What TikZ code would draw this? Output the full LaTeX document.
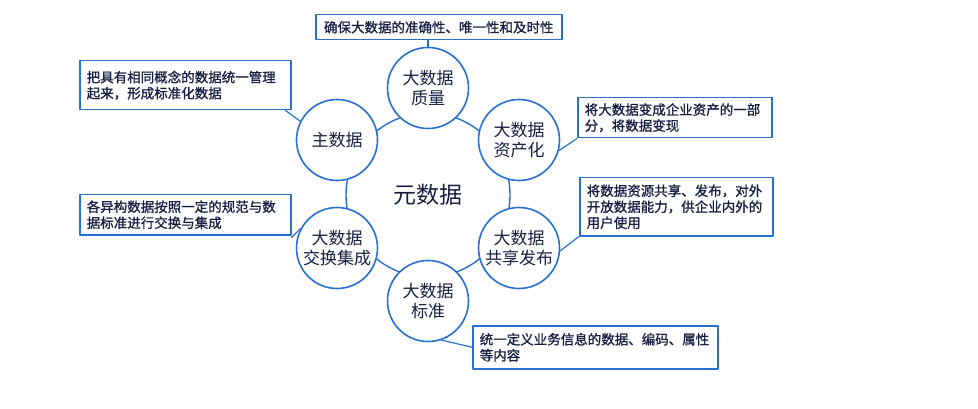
\documentclass[tikz,border=0pt]{standalone}
\usepackage{fontspec}
\setmainfont{Noto Sans CJK SC}
\newfontfamily\notefont[FakeBold=1]{Noto Sans CJK SC}
\definecolor{ringblue}{RGB}{40,112,208}
\definecolor{txtnavy}{RGB}{22,30,66}
\begin{document}
\begin{tikzpicture}[x=1pt, y=-1pt, line cap=round, line join=round]
	\tikzset{topic/.style={circle, draw=ringblue, line width=1.6pt, fill=white, minimum size=81pt, inner sep=0pt, align=center, text=txtnavy, font=\fontsize{17}{19.5}\selectfont},
		note/.style={draw=ringblue, line width=1.5pt, fill=white, anchor=north west, align=left, text=txtnavy, font=\notefont\fontsize{13.5}{16}\selectfont, inner xsep=7pt, inner ysep=0pt},
		link/.style={draw=ringblue, line width=1.2pt}}
	\useasboundingbox (0,0) rectangle (978,409);
	% centre and ring
	\node[text=txtnavy, font=\fontsize{23}{26}\selectfont] (meta) at (428,195) {元数据};
	\draw[ringblue, line width=1.4pt] (meta.center) circle[radius=82pt];
	% topics
	\node[topic] (quality) at (428,88) {大数据\\质量};
	\node[topic] (master) at (337,140) {主数据};
	\node[topic] (asset) at (519,140) {大数据\\资产化};
	\node[topic] (exchange) at (337,248) {大数据\\交换集成};
	\node[topic] (share) at (519,248) {大数据\\共享发布};
	\node[topic] (standard) at (428,301) {大数据\\标准};
	% notes
	\node[note, text width=232pt, minimum height=25pt, align=center] (nquality) at (315,14) {确保大数据的准确性、唯一性和及时性};
	\node[note, text width=197pt, minimum height=49pt] (nmaster) at (79,60) {把具有相同概念的数据统一管理\\起来，形成标准化数据};
	\node[note, text width=197pt, minimum height=40pt] (nexchange) at (79,194) {各异构数据按照一定的规范与数\\据标准进行交换与集成};
	\node[note, text width=180pt, minimum height=40pt] (nasset) at (577,97) {将大数据变成企业资产的一部\\分，将数据变现};
	\node[note, text width=179pt, minimum height=58pt] (nshare) at (579,177) {将数据资源共享、发布，对外\\开放数据能力，供企业内外的\\用户使用};
	\node[note, text width=231pt, minimum height=43pt] (nstandard) at (472,325) {统一定义业务信息的数据、编码、属性\\等内容};
	% connectors
	\draw[link] (quality.north) -- (quality.north |- nquality.south);
	\draw[link] ([xshift=-6pt]nmaster.south east) -- (master.153);
	\draw[link] ([yshift=-2pt]nexchange.south east) -- (exchange.152);
	\draw[link] (nasset.south west) -- (asset.-15);
	\draw[link] (nshare.south west) -- (share.-4);
	\draw[link] (standard.-71) -- (nstandard.west);
\end{tikzpicture}
\end{document}
